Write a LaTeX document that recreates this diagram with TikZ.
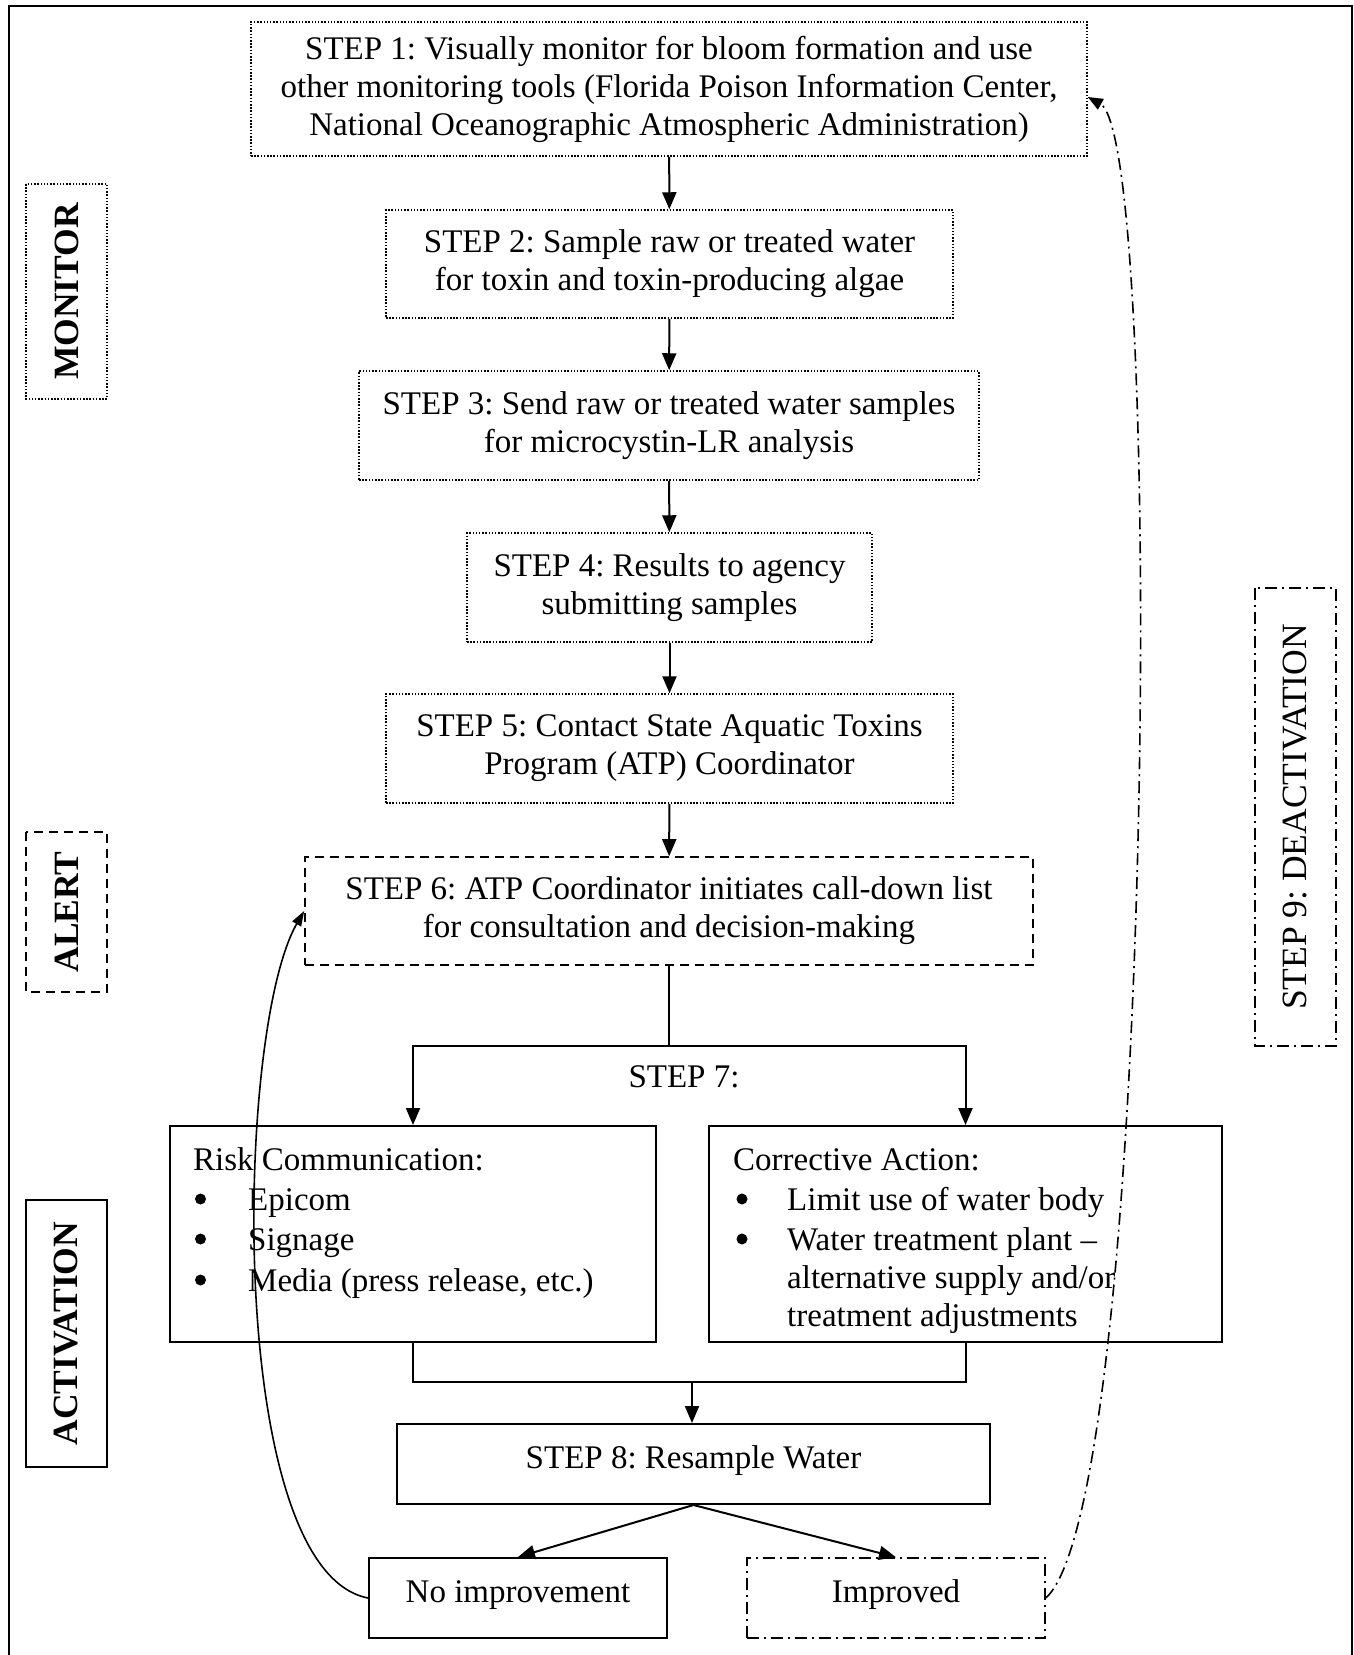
\documentclass[tikz,border=0pt]{standalone}
\usepackage{fontspec}
\setmainfont{Liberation Serif}
\usetikzlibrary{arrows.meta}
\frenchspacing

\begin{document}
\begin{tikzpicture}[x=1pt,y=-1pt,
  every node/.style={font=\fontsize{33}{38}\selectfont, inner sep=0pt},
  dotbox/.style={draw, line width=1.5pt, dash pattern=on 1.5pt off 1.7pt, align=center},
  dashbox/.style={draw, line width=1.6pt, dash pattern=on 9pt off 6pt, align=center},
  dashdotbox/.style={draw, line width=1.6pt, dash pattern=on 12pt off 5pt on 2pt off 5pt, align=center},
  solidbox/.style={draw, line width=2pt, align=center},
  oneline/.style={text height=24pt, text depth=15pt},
  sidelabel/.style={rotate=90, minimum height=81pt, font=\fontsize{35.5}{40}\selectfont\bfseries},
  txt/.style={anchor=base west},
  bul/.style={circle, fill, minimum size=11pt},
  link/.style={line width=2pt},
  arr/.style={line width=2pt, -{Triangle[length=17pt,width=14pt]}},
  loop/.style={line width=1.6pt, -{Triangle[length=15pt,width=10pt]}},
  backloop/.style={line width=1.6pt, dash pattern=on 12pt off 5pt on 2pt off 5pt,
    -{Triangle[length=15pt,width=12pt]}}
]
% page and outer frame
\useasboundingbox (0,0) rectangle (1354,1655);
\fill[white] (0,0) rectangle (1354,1655);
\draw[line width=2.5pt] (9,1670) -- (9,6) -- (1352,6) -- (1352,1670);

% phase labels
\node[sidelabel, dotbox, minimum width=215pt] (monitor) at (66.5,291.5) {MONITOR};
\node[sidelabel, dashbox, minimum width=160pt] (alert) at (66.5,912) {ALERT};
\node[sidelabel, solidbox, minimum width=267pt] (activation) at (66.5,1333.5) {ACTIVATION};
\node[sidelabel, dashdotbox, minimum width=458pt, font=\fontsize{35.5}{40}\selectfont] (deact) at (1295.5,817) {STEP 9: DEACTIVATION};

% monitoring steps
\node[dotbox, minimum width=836pt, minimum height=134pt] (s1) at (669,89)
  {STEP 1: Visually monitor for bloom formation and use\\other monitoring tools (Florida Poison Information Center,\\National Oceanographic Atmospheric Administration)};
\node[dotbox, minimum width=567pt, minimum height=108pt] (s2) at (669.5,264)
  {STEP 2: Sample raw or treated water\\for toxin and toxin-producing algae};
\node[dotbox, minimum width=620pt, minimum height=109pt] (s3) at (669,425.5)
  {STEP 3: Send raw or treated water samples\\for microcystin-LR analysis};
\node[dotbox, minimum width=405pt, minimum height=109pt] (s4) at (669.5,587.5)
  {STEP 4: Results to agency\\submitting samples};
\node[dotbox, minimum width=567pt, minimum height=109pt] (s5) at (669.5,748.5)
  {STEP 5: Contact State Aquatic Toxins\\Program (ATP) Coordinator};
\node[dashbox, minimum width=728pt, minimum height=108pt] (s6) at (669,911)
  {STEP 6: ATP Coordinator initiates call-down list\\for consultation and decision-making};

\draw[arr] (s1) -- (s2);
\draw[arr] (s2) -- (s3);
\draw[arr] (s3) -- (s4);
\draw[arr] (s4) -- (s5);
\draw[arr] (s5) -- (s6);

% step 7: two parallel actions
\node[solidbox, minimum width=486pt, minimum height=216pt] (risk) at (413,1234) {};
\node[solidbox, minimum width=513pt, minimum height=216pt] (corr) at (965.5,1234) {};
\node (s7) at (684,1077) {STEP 7:};

\coordinate (j7) at (669,1046);
\draw[link] (s6.south) -- (j7);
\draw[arr] (j7) -| (risk.north);
\draw[arr] (j7) -| (corr.north);

\node[txt] (riskt) at (193,1170) {Risk Communication:};
\node[bul] (rb1) at (200.5,1199) {};
\node[bul] (rb2) at (200.5,1239) {};
\node[bul] (rb3) at (200.5,1280) {};
\node[txt] (r1) at (248,1210) {Epicom};
\node[txt] (r2) at (248,1250) {Signage};
\node[txt] (r3) at (248,1291) {Media (press release, etc.)};

\node[txt] (corrt) at (733,1170) {Corrective Action:};
\node[bul] (cb1) at (742,1199) {};
\node[bul] (cb2) at (742,1239) {};
\node[txt] (c1) at (787,1210) {Limit use of water body};
\node[txt] (c2) at (787,1250) {Water treatment plant --};
\node[txt] (c3) at (787,1288) {alternative supply and/or};
\node[txt] (c4) at (787,1326) {treatment adjustments};

% step 8 and its outcomes
\node[solidbox, oneline, minimum width=593pt, minimum height=80pt] (s8) at (693.5,1464) {STEP 8: Resample Water};
\coordinate (m8) at (692,1382);
\draw[link] (risk.south) |- (m8);
\draw[link] (corr.south) |- (m8);
\draw[arr] (m8) -- (m8 |- s8.north);

\node[solidbox, oneline, minimum width=298pt, minimum height=80pt] (noimp) at (518,1598) {No improvement};
\node[dashdotbox, oneline, minimum width=298pt, minimum height=80pt] (imp) at (896,1598) {Improved};
\draw[arr] (s8.south) -- (noimp.north);
\draw[arr] (s8.south) -- (imp.north);

% feedback loops
\draw[loop] (noimp.west) .. controls (225,1570) and (235,1030) .. (s6.west);
\draw[backloop] (imp.east) .. controls (1155,1500) and (1165,140) .. ([yshift=-8pt]s1.east);
\end{tikzpicture}
\end{document}
